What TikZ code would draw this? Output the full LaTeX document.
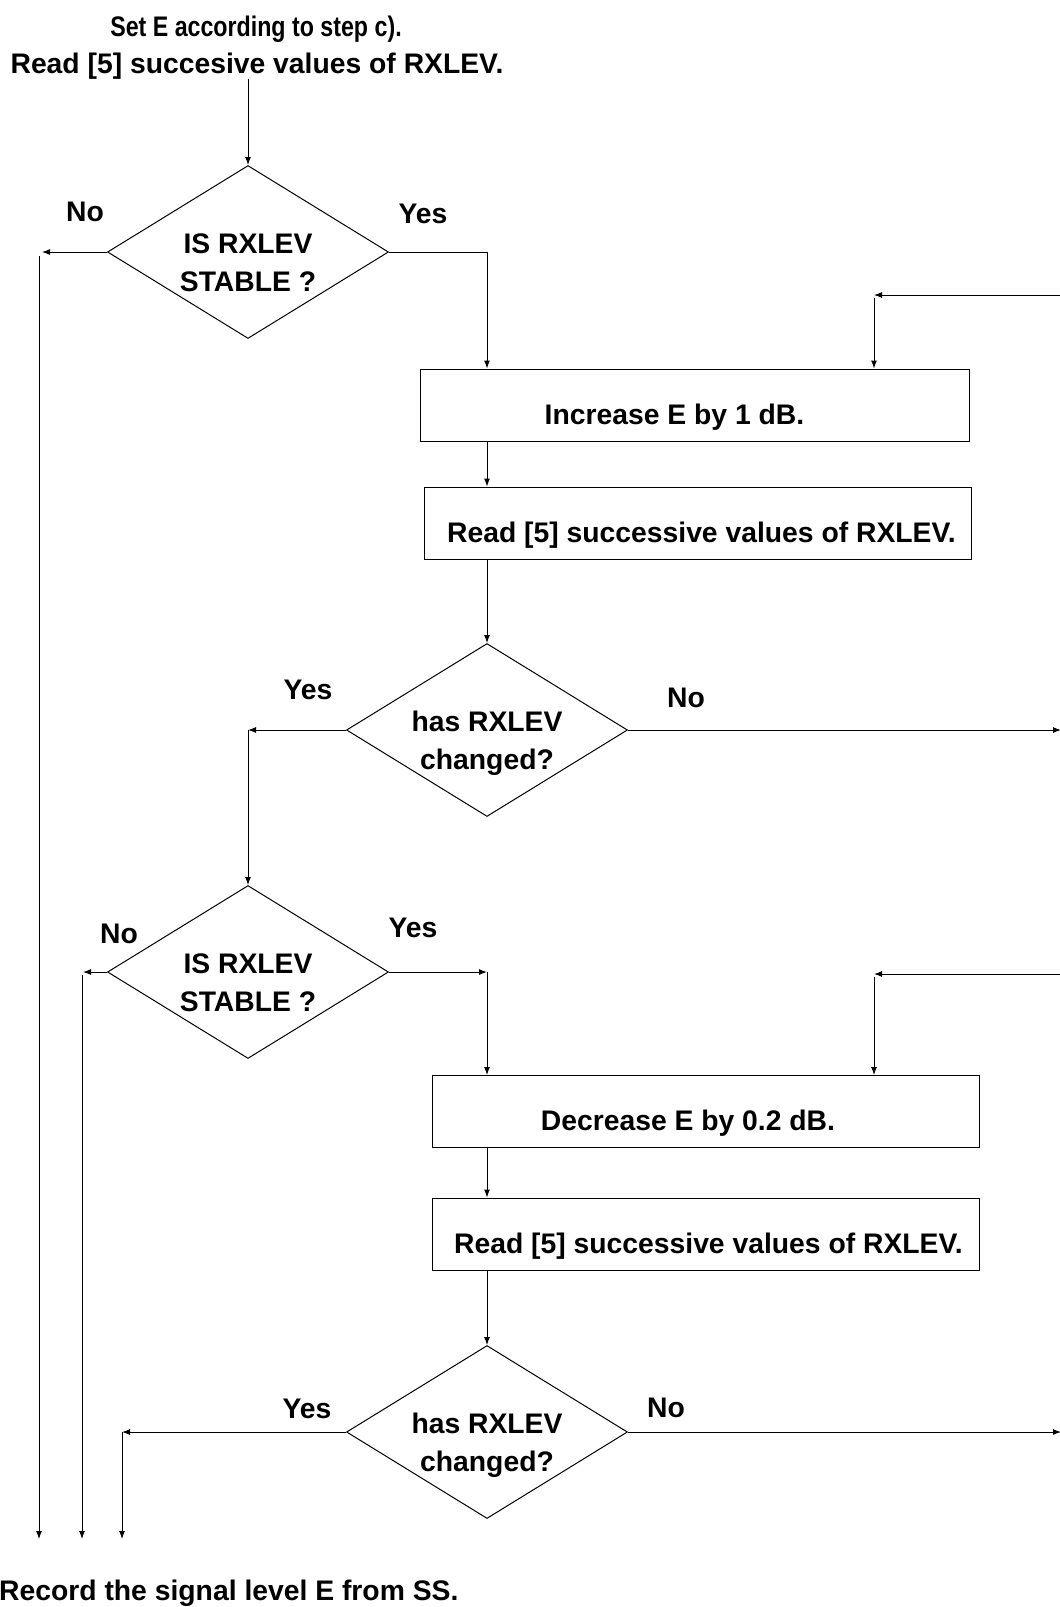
\documentclass[tikz,border=0pt]{standalone}
\usepackage{fontspec}
\setmainfont{Liberation Sans}
\usepackage{tikz}
\usetikzlibrary{positioning, shapes.geometric, calc, arrows.meta}

\begin{document}
\begin{tikzpicture}[
  x=1pt, y=-1pt,
  font=\bfseries\fontsize{28.3}{38}\selectfont,
  >={Latex[length=8pt,width=6pt]},
  every node/.style={align=center},
  stepbox/.style={rectangle, draw, line width=1pt, inner sep=0pt,
                  minimum width=547pt, minimum height=72pt,
                  text height=38pt, text depth=0pt},
  decision/.style={diamond, draw, line width=1pt, inner sep=0pt, aspect=1.62,
                   minimum width=281pt, minimum height=173pt,
                   text height=78pt, text depth=0pt},
  nudge/.style={execute at begin node={\hspace*{#1}}},
  plain/.style={inner sep=0pt},
  branch/.style={inner sep=0pt},
  flow/.style={->, line width=1pt}
]

\useasboundingbox (0,0) rectangle (1060,1607);

% --- Header and footer texts ---
\node[plain, anchor=base] (setE) at (256,36) {\scalebox{0.82}[1]{Set E according to step c).}};
\node[plain, anchor=base] (readA) at (257,73) {Read [5] succesive values of RXLEV.};
\node[plain, anchor=base west] (record) at (-1,1600) {Record the signal level E from SS.};

% --- Decisions ---
\node[decision] (stab1) at (248,252) {IS RXLEV\\STABLE ?};
\node[decision] (chg1) at (487,730) {has RXLEV\\changed?};
\node[decision] (stab2) at (248,972) {IS RXLEV\\STABLE ?};
\node[decision] (chg2) at (487,1432) {has RXLEV\\changed?};

% --- Steps ---
\node[stepbox, minimum width=549pt, nudge=-40pt] (incr) at (694.5,405) {Increase E by 1 dB.};
\node[stepbox, nudge=8pt] (readB) at (697.5,523) {Read [5] successive values of RXLEV.};
\node[stepbox, nudge=-35pt] (decr) at (705.5,1111.5) {Decrease E by 0.2 dB.};
\node[stepbox, nudge=6pt] (readC) at (705.5,1234) {Read [5] successive values of RXLEV.};

% --- Branch labels ---
\node[branch] (no1) at (85,212) {No};
\node[branch] (yes1) at (423,214) {Yes};
\node[branch] (yes2) at (308,690) {Yes};
\node[branch] (no2) at (686,698) {No};
\node[branch] (no3) at (119,934) {No};
\node[branch] (yes3) at (413,928) {Yes};
\node[branch] (yes4) at (307,1409) {Yes};
\node[branch] (no4) at (666,1408) {No};

% --- Free ends and corners ---
\coordinate (outA) at (39,1539);
\coordinate (outB) at (82,1539);
\coordinate (outC) at (122,1539);
\coordinate (loopA) at (1062,295);
\coordinate (loopB) at (1062,974);
\coordinate (exitA) at (1061,730);
\coordinate (exitB) at (1061,1432);
\coordinate (trunk) at (487,0);
\coordinate (loopX) at (874,0);

% --- First pass: increase ---
\draw[flow] (stab1.north |- readA.south) -- (stab1.north);
\draw[flow] (stab1.west) -- ($(stab1.west -| outA)+(3,0)$);
\draw[flow] ($(stab1.west -| outA)+(0,4)$) -- (outA);
\draw[flow] (stab1.east) -| (incr.north -| trunk);
\draw[flow] (loopA) -- (loopA -| loopX);
\draw[flow] ($(loopA -| loopX)+(0,3)$) -- (incr.north -| loopX);
\draw[flow] (incr.south -| trunk) -- (readB.north -| trunk);
\draw[flow] (readB.south -| trunk) -- (chg1.north);
\draw[flow] (chg1.east) -- (exitA);
\draw[flow] (chg1.west) -- (chg1.west -| stab2.north);
\draw[flow] (chg1.west -| stab2.north) -- (stab2.north);

% --- Second pass: decrease ---
\draw[flow] (stab2.west) -- ($(stab2.west -| outB)+(1,0)$);
\draw[flow] ($(stab2.west -| outB)+(0,3)$) -- (outB);
\draw[flow] (stab2.east) -- (stab2.east -| trunk);
\draw[flow] (stab2.east -| trunk) -- (decr.north -| trunk);
\draw[flow] (loopB) -- (loopB -| loopX);
\draw[flow] ($(loopB -| loopX)+(0,3)$) -- (decr.north -| loopX);
\draw[flow] (decr.south -| trunk) -- (readC.north -| trunk);
\draw[flow] (readC.south -| trunk) -- (chg2.north);
\draw[flow] (chg2.east) -- (exitB);
\draw[flow] (chg2.west) -- (chg2.west -| outC);
\draw[flow] (chg2.west -| outC) -- (outC);

\end{tikzpicture}
\end{document}
